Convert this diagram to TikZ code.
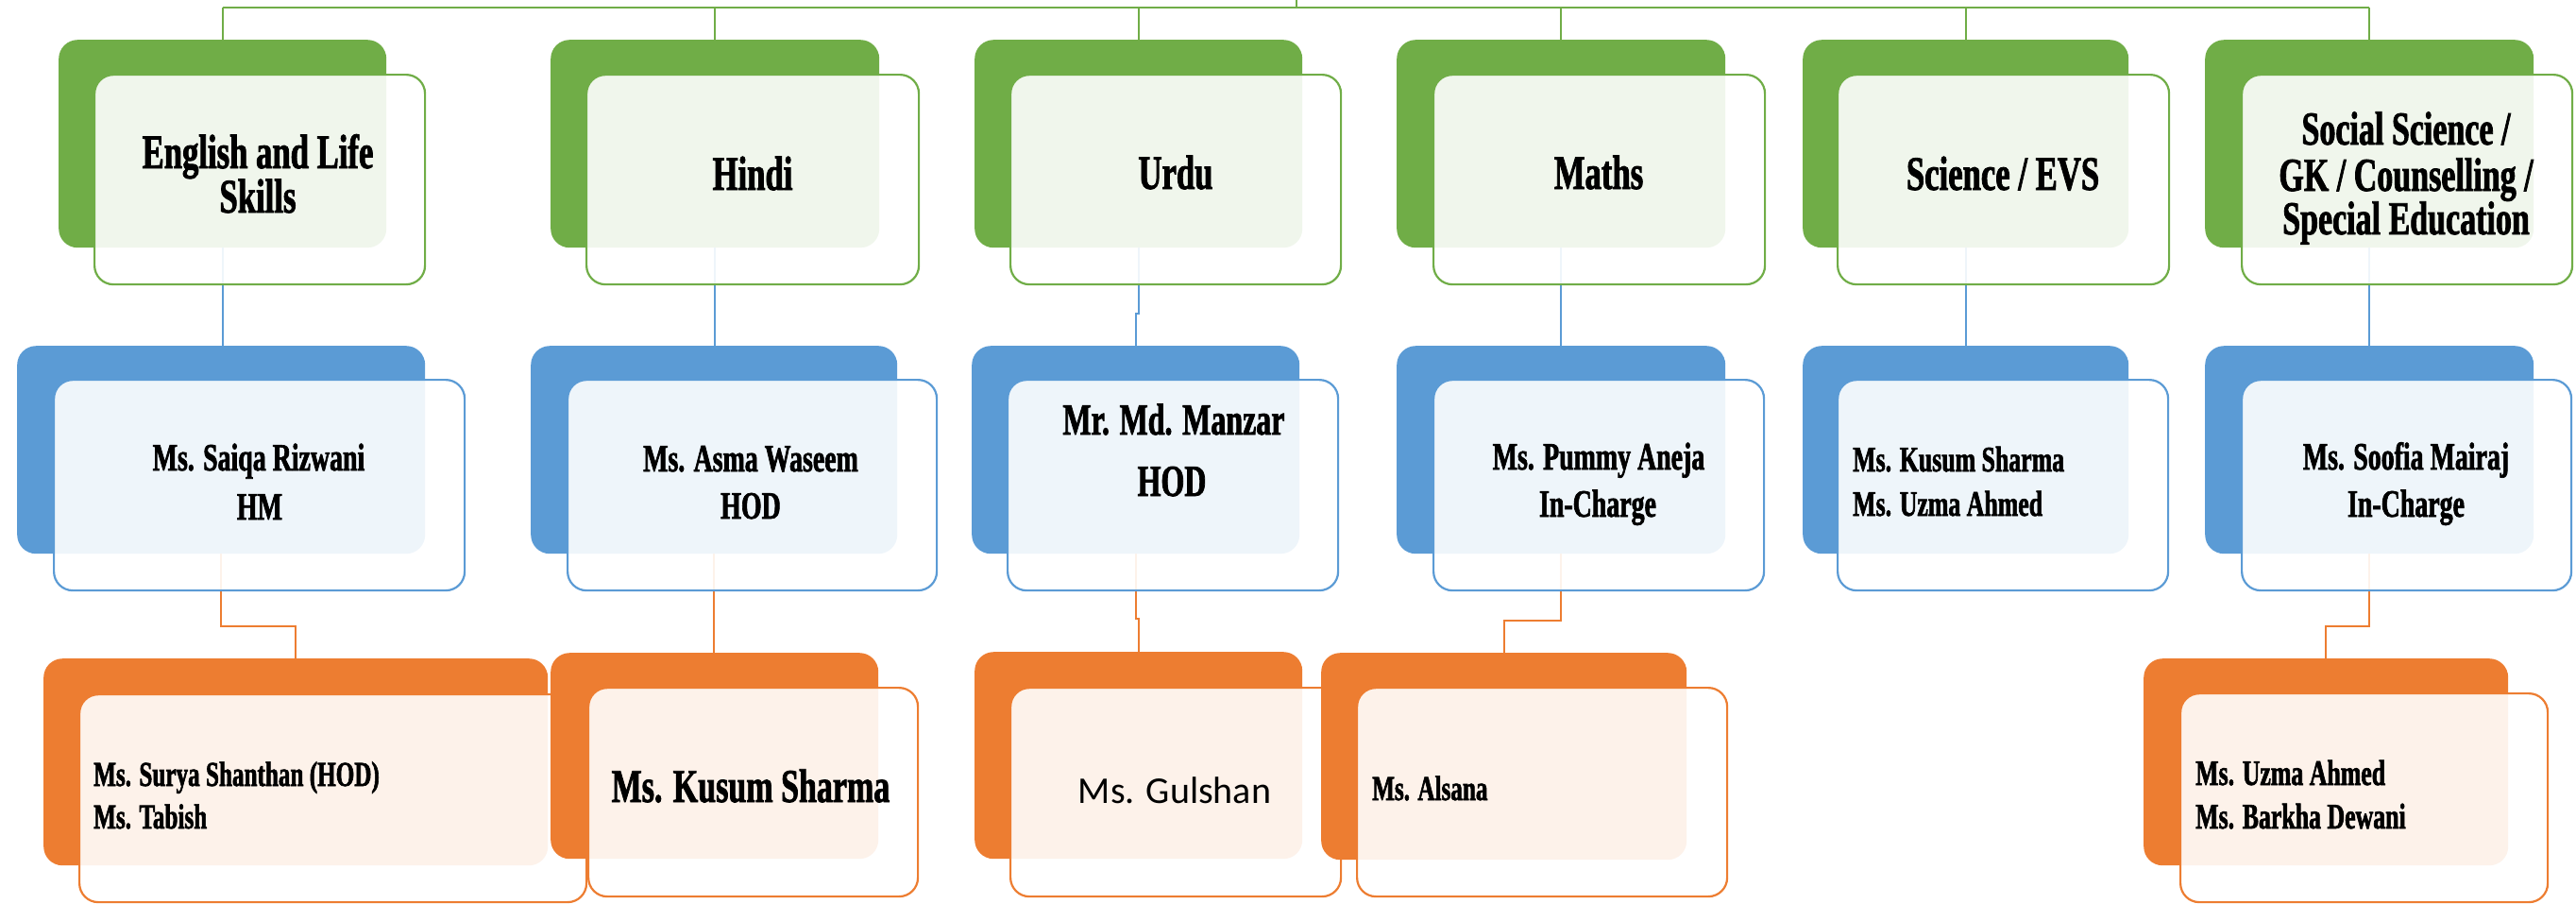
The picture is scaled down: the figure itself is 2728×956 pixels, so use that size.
\documentclass[tikz,border=0pt]{standalone}
\usepackage{fontspec}
\newfontfamily\bern{Liberation Serif}[FakeStretch=0.68, FakeBold=1.6]
\newfontfamily\carl{Carlito}
\newcommand\fz[1]{\fontsize{#1pt}{#1pt}\selectfont}
\definecolor{gG}{HTML}{70AD47}
\definecolor{bB}{HTML}{5B9BD5}
\definecolor{oO}{HTML}{ED7D31}
\pgfdeclarelayer{conn}
\pgfsetlayers{conn,main}
\tikzset{
  back/.style={rounded corners=20pt, fill=#1, draw=none, anchor=north west, inner sep=0pt},
  front/.style={rounded corners=20pt, fill=white, fill opacity=0.9, draw=#1, line width=2.2pt, anchor=north west, inner sep=0pt},
  conn/.style={draw=#1, line width=2pt},
  tc/.style={inner sep=0pt, anchor=base, font=\bern\bfseries\fz{#1}},
  tl/.style={inner sep=0pt, anchor=base west, font=\bern\bfseries\fz{#1}},
}
\begin{document}
\begin{tikzpicture}[x=1pt, y=-1pt]
\useasboundingbox (0,0) rectangle (2728,956);
% ---------- level 1 ----------
\node[back=gG, minimum width=347pt, minimum height=220pt] (e1b) at (62,42) {};
\node[front=gG, minimum width=350pt, minimum height=222pt] (e1f) at (99,78) {};
\node[back=gG, minimum width=348pt, minimum height=220pt] (h1b) at (583,42) {};
\node[front=gG, minimum width=352pt, minimum height=222pt] (h1f) at (620,78) {};
\node[back=gG, minimum width=347pt, minimum height=220pt] (u1b) at (1032,42) {};
\node[front=gG, minimum width=350pt, minimum height=222pt] (u1f) at (1069,78) {};
\node[back=gG, minimum width=348pt, minimum height=220pt] (m1b) at (1479,42) {};
\node[front=gG, minimum width=351pt, minimum height=222pt] (m1f) at (1517,78) {};
\node[back=gG, minimum width=345pt, minimum height=220pt] (s1b) at (1909,42) {};
\node[front=gG, minimum width=351pt, minimum height=222pt] (s1f) at (1945,78) {};
\node[back=gG, minimum width=348pt, minimum height=220pt] (ss1b) at (2335,42) {};
\node[front=gG, minimum width=350pt, minimum height=222pt] (ss1f) at (2373,78) {};
% ---------- level 2 ----------
\node[back=bB, minimum width=432pt, minimum height=220pt] (e2b) at (18,366) {};
\node[front=bB, minimum width=435pt, minimum height=223pt] (e2f) at (56,401) {};
\node[back=bB, minimum width=388pt, minimum height=220pt] (h2b) at (562,366) {};
\node[front=bB, minimum width=391pt, minimum height=223pt] (h2f) at (600,401) {};
\node[back=bB, minimum width=347pt, minimum height=220pt] (u2b) at (1029,366) {};
\node[front=bB, minimum width=350pt, minimum height=223pt] (u2f) at (1066,401) {};
\node[back=bB, minimum width=348pt, minimum height=220pt] (m2b) at (1479,366) {};
\node[front=bB, minimum width=350pt, minimum height=223pt] (m2f) at (1517,401) {};
\node[back=bB, minimum width=345pt, minimum height=220pt] (s2b) at (1909,366) {};
\node[front=bB, minimum width=350pt, minimum height=223pt] (s2f) at (1945,401) {};
\node[back=bB, minimum width=348pt, minimum height=220pt] (ss2b) at (2335,366) {};
\node[front=bB, minimum width=349pt, minimum height=223pt] (ss2f) at (2373,401) {};
% ---------- level 3 ----------
\node[back=oO, minimum width=534pt, minimum height=219pt] (e3b) at (46,697) {};
\node[front=oO, minimum width=537pt, minimum height=220pt] (e3f) at (83,734) {};
\node[back=oO, minimum width=347pt, minimum height=218pt] (h3b) at (583,691) {};
\node[front=oO, minimum width=349pt, minimum height=221pt] (h3f) at (622,727) {};
\node[back=oO, minimum width=347pt, minimum height=219pt] (u3b) at (1032,690) {};
\node[front=oO, minimum width=350pt, minimum height=221pt] (u3f) at (1069,727) {};
\node[back=oO, minimum width=387pt, minimum height=219pt] (a3b) at (1399,691) {};
\node[front=oO, minimum width=392pt, minimum height=221pt] (a3f) at (1436,727) {};
\node[back=oO, minimum width=386pt, minimum height=219pt] (ss3b) at (2270,697) {};
\node[front=oO, minimum width=389pt, minimum height=221pt] (ss3f) at (2308,733) {};
% ---------- texts level 1 ----------
\node[tc=51] (t1a) at (273,178) {English and Life};
\node[tc=51] (t1b) at (273,225) {Skills};
\node[tc=51] (t2) at (797,201) {Hindi};
\node[tc=51] (t3) at (1245,200) {Urdu};
\node[tc=51] (t4) at (1693,200) {Maths};
\node[tc=51] (t5) at (2121,201) {Science / EVS};
\node[tc=50] (t6a) at (2548,153) {Social Science /};
\node[tc=50] (t6b) at (2548,202) {GK / Counselling /};
\node[tc=50] (t6c) at (2548,248) {Special Education};
% ---------- texts level 2 ----------
\node[tc=41] (p1a) at (274,498) {Ms. Saiqa Rizwani};
\node[tc=41] (p1b) at (275,550) {HM};
\node[tc=41] (p2a) at (795,499) {Ms. Asma Waseem};
\node[tc=41] (p2b) at (795,549) {HOD};
\node[tc=47] (p3a) at (1243,460) {Mr. Md. Manzar};
\node[tc=47] (p3b) at (1241,525) {HOD};
\node[tc=41] (p4a) at (1693,497) {Ms. Pummy Aneja};
\node[tc=41] (p4b) at (1692,547) {In-Charge};
\node[tl=38] (p5a) at (1962,499) {Ms. Kusum Sharma};
\node[tl=38] (p5b) at (1962,546) {Ms. Uzma Ahmed};
\node[tc=41] (p6a) at (2548,497) {Ms. Soofia Mairaj};
\node[tc=41] (p6b) at (2548,547) {In-Charge};
% ---------- texts level 3 ----------
\node[tl=37] (q1a) at (99,832) {Ms. Surya Shanthan (HOD)};
\node[tl=37] (q1b) at (99,877) {Ms. Tabish};
\node[tc=50] (q2) at (795,849) {Ms. Kusum Sharma};
\node[inner sep=0pt, anchor=base, font=\carl\fz{40}] (q3) at (1244,850) {Ms. Gulshan};
\node[tl=37] (q4) at (1453,847) {Ms. Alsana};
\node[tl=38] (q5a) at (2325,831) {Ms. Uzma Ahmed};
\node[tl=38] (q5b) at (2325,877) {Ms. Barkha Dewani};
% ---------- connectors ----------
\coordinate (top) at (1373,0);
\coordinate (bar) at (1373,8);
\begin{pgfonlayer}{conn}
\draw[conn=gG] (top) -- (bar);
\draw[conn=gG] (e1b.north |- bar) -- (ss1b.north |- bar);
\foreach \n in {e1b,h1b,u1b,m1b,s1b,ss1b}{
  \draw[conn=gG] (\n.north |- bar) -- (\n.north);
}
\draw[conn=bB] (e1b.south) -- (e1b.south |- e2b.north);
\draw[conn=bB] (h1b.south) -- (h1b.south |- h2b.north);
\draw[conn=bB] (u1b.south) -- ++(0,70) -| (u2b.north);
\draw[conn=bB] (m1b.south) -- (m1b.south |- m2b.north);
\draw[conn=bB] (s1b.south) -- (s1b.south |- s2b.north);
\draw[conn=bB] (ss1b.south) -- (ss1b.south |- ss2b.north);
\draw[conn=oO] (e2b.south) -- ++(0,77) -| (e3b.north);
\draw[conn=oO] (h2b.south) -- (h2b.south |- h3b.north);
\draw[conn=oO] (u2b.south) -- ++(0,69) -| (u3b.north);
\draw[conn=oO] (m2b.south) -- ++(0,71) -| (a3b.north);
\draw[conn=oO] (ss2b.south) -- ++(0,77) -| (ss3b.north);
\end{pgfonlayer}
\end{tikzpicture}
\end{document}
